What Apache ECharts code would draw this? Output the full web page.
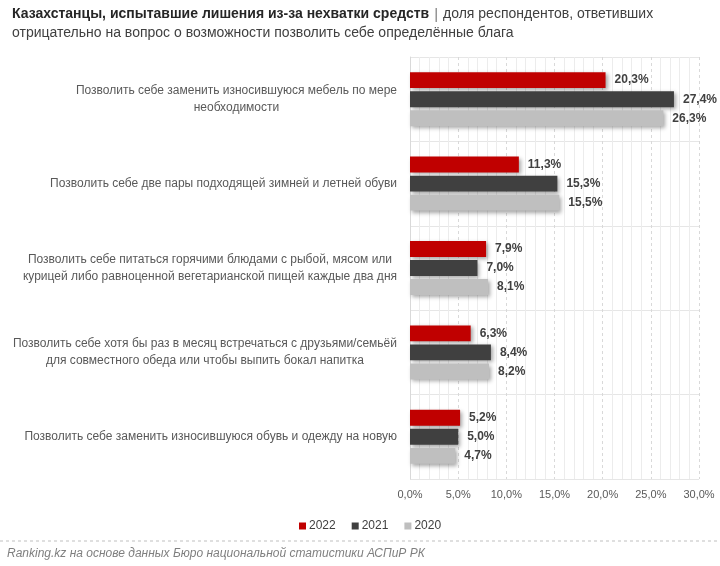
<!DOCTYPE html>
<html>
<head>
<meta charset="utf-8">
<script src="https://cdn.jsdelivr.net/npm/echarts@6/dist/echarts.min.js"></script>
<style>
  html, body { margin: 0; padding: 0; background: #fff; }
  #main { width: 720px; height: 566px; }
</style>
</head>
<body>
<div id="main"></div>
<script>
// categories (top to bottom)
var categories = [
  'Позволить себе заменить износившуюся мебель по мере\nнеобходимости',
  'Позволить себе две пары подходящей зимней и летней обуви',
  'Позволить себе питаться горячими блюдами с рыбой, мясом или\nкурицей либо равноценной вегетарианской пищей каждые два дня',
  'Позволить себе хотя бы раз в месяц встречаться с друзьями/семьёй\nдля совместного обеда или чтобы выпить бокал напитка',
  'Позволить себе заменить износившуюся обувь и одежду на новую'
];
var years = ['2022', '2021', '2020'];
var values2022 = [20.3, 11.3, 7.9, 6.3, 5.2];
var values2021 = [27.4, 15.3, 7.0, 8.4, 5.0];
var values2020 = [26.3, 15.5, 8.1, 8.2, 4.7];
var colors = ['#C00000', '#404040', '#BFBFBF'];

var font = 'Liberation Sans';
var myChart = echarts.init(document.getElementById('main'));

function pct(v, digits) {
  return v.toFixed(digits).replace('.', ',') + '%';
}

function makeSeries(name, data, color) {
  return {
    name: name,
    type: 'bar',
    data: data,
    barGap: '20%',
    barCategoryGap: '36%',
    itemStyle: {
      color: color,
      shadowColor: 'rgba(0,0,0,0.35)',
      shadowBlur: 4,
      shadowOffsetX: 2,
      shadowOffsetY: 2
    },
    label: {
      show: true,
      position: 'right',
      distance: 9,
      fontFamily: font,
      fontSize: 12,
      fontWeight: 'bold',
      color: '#404040',
      formatter: function (p) { return pct(p.value, 1); }
    }
  };
}

var option = {
  animation: false,
  color: colors,
  title: {
    left: 7,
    top: 0,
    text: '{b|Казахстанцы, испытавшие лишения из-за нехватки средств} {s||} {n|доля респондентов, ответивших}\n{n|отрицательно на вопрос о возможности позволить себе определённые блага}',
    textStyle: {
      fontWeight: 'normal',
      rich: {
        b: { fontFamily: font, fontSize: 14, fontWeight: 'bold', color: '#262626', lineHeight: 19 },
        s: { fontFamily: font, fontSize: 15, fontWeight: 'normal', color: '#808080', lineHeight: 19 },
        n: { fontFamily: font, fontSize: 14, fontWeight: 'normal', color: '#404040', lineHeight: 19 }
      }
    }
  },
  legend: {
    data: years,
    left: 294,
    top: 515,
    itemWidth: 7,
    itemHeight: 7,
    itemGap: 16,
    icon: 'rect',
    textStyle: { fontFamily: font, fontSize: 12, color: '#404040', padding: [0, 0, 0, -2] }
  },
  grid: { left: 410, right: 21, top: 57, bottom: 87 },
  xAxis: {
    type: 'value',
    min: 0,
    max: 30,
    interval: 5,
    axisLine: { show: false },
    axisTick: { show: false },
    axisLabel: {
      fontFamily: font,
      fontSize: 11,
      color: '#595959',
      margin: 10,
      formatter: function (v) { return pct(v, 1); }
    },
    splitLine: { show: true, lineStyle: { color: '#d9d9d9', type: [3, 3] } },
    minorTick: { show: false, splitNumber: 5 },
    minorSplitLine: { show: true, lineStyle: { color: '#ececec' } }
  },
  yAxis: {
    type: 'category',
    data: categories,
    inverse: true,
    axisLine: { show: true, lineStyle: { color: '#d9d9d9' } },
    axisTick: { show: false },
    splitLine: { show: true, lineStyle: { color: '#e6e6e6' } },
    axisLabel: {
      margin: 13,
      align: 'right',
      formatter: function (v) {
        return v.split('\n').map(function (l) { return '{c|' + l + '}'; }).join('\n');
      },
      rich: {
        c: { align: 'center', fontFamily: font, fontSize: 12, color: '#595959', lineHeight: 17 }
      }
    }
  },
  graphic: [
    {
      type: 'line',
      shape: { x1: 0, y1: 541, x2: 720, y2: 541 },
      style: { stroke: '#bfbfbf', lineWidth: 1, lineDash: [3, 3] }
    },
    {
      type: 'text',
      left: 7,
      top: 548,
      style: {
        text: 'Ranking.kz на основе данных Бюро национальной статистики АСПиР РК',
        fontFamily: font,
        fontSize: 12,
        fontStyle: 'italic',
        fill: '#7f7f7f'
      }
    }
  ],
  series: [
    makeSeries(years[0], values2022, colors[0]),
    makeSeries(years[1], values2021, colors[1]),
    makeSeries(years[2], values2020, colors[2])
  ]
};

myChart.setOption(option);
</script>
</body>
</html>
